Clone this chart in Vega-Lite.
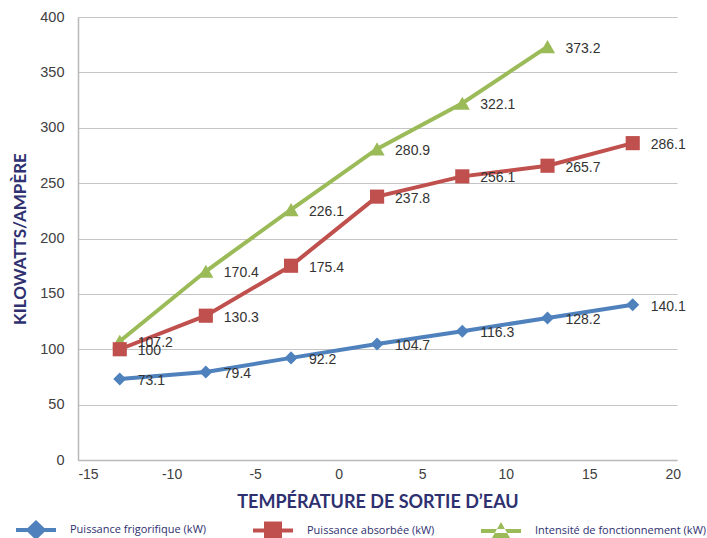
{
  "$schema": "https://vega.github.io/schema/vega-lite/v6.json",
  "width": 599,
  "height": 443,
  "autosize": {"type": "none"},
  "padding": {"left": 78, "top": 17, "right": 30, "bottom": 78},
  "background": "white",
  "config": {"view": {"stroke": null}, "font": "Liberation Sans", "legend": {"padding": 0}},
  "data": {
    "values": [
      {"series": "Intensité de fonctionnement (kW)", "x": -13.1, "y": 107.2, "label": "107.2"},
      {"series": "Intensité de fonctionnement (kW)", "x": -7.95, "y": 170.4, "label": "170.4"},
      {"series": "Intensité de fonctionnement (kW)", "x": -2.85, "y": 226.1, "label": "226.1"},
      {"series": "Intensité de fonctionnement (kW)", "x": 2.3, "y": 280.9, "label": "280.9"},
      {"series": "Intensité de fonctionnement (kW)", "x": 7.4, "y": 322.1, "label": "322.1"},
      {"series": "Intensité de fonctionnement (kW)", "x": 12.5, "y": 373.2, "label": "373.2"},
      {"series": "Puissance absorbée (kW)", "x": -13.1, "y": 100, "label": "100"},
      {"series": "Puissance absorbée (kW)", "x": -7.95, "y": 130.3, "label": "130.3"},
      {"series": "Puissance absorbée (kW)", "x": -2.85, "y": 175.4, "label": "175.4"},
      {"series": "Puissance absorbée (kW)", "x": 2.3, "y": 237.8, "label": "237.8"},
      {"series": "Puissance absorbée (kW)", "x": 7.4, "y": 256.1, "label": "256.1"},
      {"series": "Puissance absorbée (kW)", "x": 12.5, "y": 265.7, "label": "265.7"},
      {"series": "Puissance absorbée (kW)", "x": 17.6, "y": 286.1, "label": "286.1"},
      {"series": "Puissance frigorifique (kW)", "x": -13.1, "y": 73.1, "label": "73.1"},
      {"series": "Puissance frigorifique (kW)", "x": -7.95, "y": 79.4, "label": "79.4"},
      {"series": "Puissance frigorifique (kW)", "x": -2.85, "y": 92.2, "label": "92.2"},
      {"series": "Puissance frigorifique (kW)", "x": 2.3, "y": 104.7, "label": "104.7"},
      {"series": "Puissance frigorifique (kW)", "x": 7.4, "y": 116.3, "label": "116.3"},
      {"series": "Puissance frigorifique (kW)", "x": 12.5, "y": 128.2, "label": "128.2"},
      {"series": "Puissance frigorifique (kW)", "x": 17.6, "y": 140.1, "label": "140.1"}
    ]
  },
  "encoding": {
    "x": {
      "field": "x", "type": "quantitative",
      "scale": {"domain": [-15.6, 20.25], "nice": false, "zero": false},
      "axis": {
        "values": [-15, -10, -5, 0, 5, 10, 15, 20],
        "labelExpr": "'' + datum.value",
        "title": "TEMPÉRATURE DE SORTIE D’EAU",
        "grid": false, "ticks": false, "labelFlush": false,
        "domainColor": "#b8b8b8", "domainWidth": 1.5,
        "labelFont": "Liberation Sans", "labelFontSize": 14, "labelColor": "#404040", "labelPadding": 7,
        "titleFont": "Lato", "titleFontSize": 18, "titleFontWeight": "bold", "titleColor": "#2e3070", "titlePadding": 12
      }
    },
    "y": {
      "field": "y", "type": "quantitative",
      "scale": {"domain": [0, 400], "nice": false},
      "axis": {
        "values": [0, 50, 100, 150, 200, 250, 300, 350, 400],
        "title": "KILOWATTS/AMPÈRE",
        "grid": true, "gridColor": "#c4c4c4", "gridWidth": 1.2, "ticks": false,
        "domainColor": "#b8b8b8", "domainWidth": 1.5,
        "labelFont": "Liberation Sans", "labelFontSize": 14.5, "labelColor": "#404040", "labelPadding": 14,
        "titleFont": "Lato", "titleFontSize": 17, "titleFontWeight": "bold", "titleColor": "#2e3070", "titlePadding": 10
      }
    }
  },
  "layer": [
    {
      "mark": {"type": "line", "strokeWidth": 4},
      "encoding": {
        "color": {
          "field": "series", "type": "nominal",
          "scale": {
            "domain": ["Puissance frigorifique (kW)", "Puissance absorbée (kW)", "Intensité de fonctionnement (kW)"],
            "range": ["#4f81bd", "#c0504d", "#9bbb59"]
          },
          "legend": {
            "orient": "none", "legendX": -62, "legendY": 493, "direction": "horizontal",
            "title": null, "symbolSize": 1600, "labelFont": "Open Sans", "labelFontSize": 11,
            "labelColor": "#2e3070", "labelOffset": 14, "columnPadding": 46, "labelLimit": 300,
            "encode": {
              "symbols": {
                "update": {
                  "shape": {"signal": "datum.value === 'Puissance frigorifique (kW)' ? 'M-1,-0.1L1,-0.1L1,0.1L-1,0.1ZM0,-0.5L0.52,0L0,0.5L-0.52,0Z' : datum.value === 'Puissance absorbée (kW)' ? 'M-1,-0.1L1,-0.1L1,0.1L-1,0.1ZM-0.45,-0.45L0.45,-0.45L0.45,0.45L-0.45,0.45Z' : 'M-1,-0.1L1,-0.1L1,0.1L-1,0.1ZM-0.48,0.4L0.48,0.4L0,-0.45Z'"},
                  "fill": {"scale": "color", "field": "value"},
                  "stroke": {"value": "transparent"},
                  "strokeWidth": {"value": 0},
                  "opacity": {"value": 1},
                  "fillOpacity": {"value": 1}
                }
              }
            }
          }
        }
      }
    },
    {
      "transform": [{"filter": "datum.series === 'Intensité de fonctionnement (kW)'"}],
      "mark": {"type": "point", "filled": true, "opacity": 1, "shape": "triangle-up", "size": 230, "color": "#9bbb59"}
    },
    {
      "transform": [{"filter": "datum.series === 'Puissance absorbée (kW)'"}],
      "mark": {"type": "point", "filled": true, "opacity": 1, "shape": "square", "size": 200, "color": "#c0504d"}
    },
    {
      "transform": [{"filter": "datum.series === 'Puissance frigorifique (kW)'"}],
      "mark": {"type": "point", "filled": true, "opacity": 1, "shape": "diamond", "size": 170, "color": "#4f81bd"}
    },
    {
      "mark": {"type": "text", "align": "left", "baseline": "middle", "dx": 18, "dy": 2, "fontSize": 14, "font": "Liberation Sans", "color": "#333333"},
      "encoding": {"text": {"field": "label"}}
    }
  ]
}
